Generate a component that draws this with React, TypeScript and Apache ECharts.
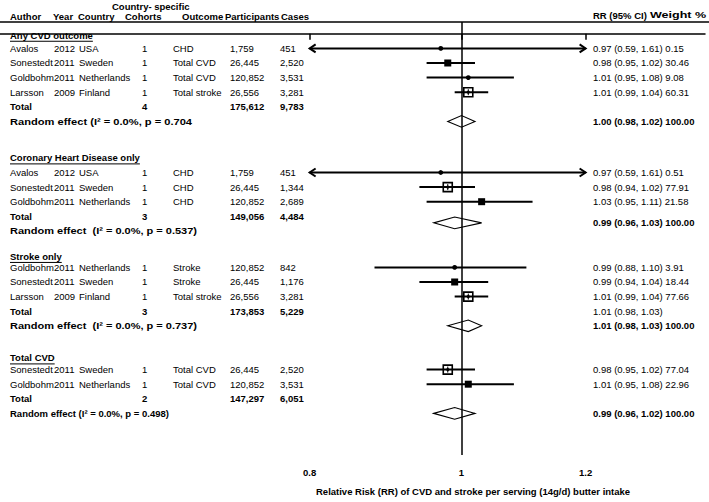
import React, { useEffect, useRef } from "react";
import * as echarts from "echarts";

// ---------------- data ----------------
const sectionTitles = ["Any CVD outcome", "Coronary Heart Disease only", "Stroke only", "Total CVD"];
const sectionRows = [0.1, 8.5, 15.25, 22.2];

const studyAuthors = ["Avalos", "Sonestedt", "Goldbohm", "Larsson", "Avalos", "Sonestedt", "Goldbohm", "Goldbohm", "Sonestedt", "Larsson", "Sonestedt", "Goldbohm"];
const studyYears = ["2012", "2011", "2011", "2009", "2012", "2011", "2011", "2011", "2011", "2009", "2011", "2011"];
const studyCountries = ["USA", "Sweden", "Netherlands", "Finland", "USA", "Sweden", "Netherlands", "Netherlands", "Sweden", "Finland", "Sweden", "Netherlands"];
const studyCohorts = ["1", "1", "1", "1", "1", "1", "1", "1", "1", "1", "1", "1"];
const studyOutcomes = ["CHD", "Total CVD", "Total CVD", "Total stroke", "CHD", "CHD", "CHD", "Stroke", "Stroke", "Total stroke", "Total CVD", "Total CVD"];
const studyParticipants = ["1,759", "26,445", "120,852", "26,556", "1,759", "26,445", "120,852", "120,852", "26,445", "26,556", "26,445", "120,852"];
const studyCases = ["451", "2,520", "3,531", "3,281", "451", "1,344", "2,689", "842", "1,176", "3,281", "2,520", "3,531"];
const studyRR = [0.97, 0.98, 1.01, 1.01, 0.97, 0.98, 1.03, 0.99, 0.99, 1.01, 0.98, 1.01];
const studyLo = [0.59, 0.95, 0.95, 0.99, 0.59, 0.94, 0.95, 0.88, 0.94, 0.99, 0.95, 0.95];
const studyHi = [1.61, 1.02, 1.08, 1.04, 1.61, 1.02, 1.11, 1.10, 1.04, 1.04, 1.02, 1.08];
const studyWeight = [0.15, 30.46, 9.08, 60.31, 0.51, 77.91, 21.58, 3.91, 18.44, 77.66, 77.04, 22.96];
const studyRows = [1, 2, 3, 4, 9.5, 10.5, 11.5, 16, 17, 18, 23, 24];

const totalCohorts = ["4", "3", "3", "2"];
const totalParticipants = ["175,612", "149,056", "173,853", "147,297"];
const totalCases = ["9,783", "4,484", "5,229", "6,051"];
const totalEstimates = ["", "", "1.01 (0.98, 1.03)", ""];
const totalRows = [5, 12.5, 19, 25];

const pooledLabels = [
  "Random effect (I\u00B2 = 0.0%, p = 0.704",
  "Random effect  (I\u00B2 = 0.0%, p = 0.537)",
  "Random effect  (I\u00B2 = 0.0%, p = 0.737)",
  "Random effect (I\u00B2 = 0.0%, p = 0.498)",
];
const pooledLabelRows = [6, 13.5, 20, 26];
const pooledRR = [1.0, 0.99, 1.01, 0.99];
const pooledLo = [0.98, 0.96, 0.98, 0.96];
const pooledHi = [1.02, 1.03, 1.03, 1.02];
const pooledWeight = [100, 100, 100, 100];
const pooledRows = [6, 12.95, 20, 26];

const xTicks = [0.8, 1, 1.2];
const axisTitle = "Relative Risk (RR) of CVD and stroke per serving (14g/d) butter intake";

// ---------------- layout ----------------
const FAMILY = "'Liberation Sans', Arial, Helvetica, sans-serif";
const FS = 9.5;
const REG = `${FS}px ${FAMILY}`;
const BOLD = `bold ${FS}px ${FAMILY}`;
const COL = { author: 10, year: 54, country: 79, cohorts: 142, outcome: 173, participants: 230, cases: 280, estimate: 593 };
const LABEL_STRETCH = [1.17, 1.16, 1.16, 1];
const X_MIN = -0.678;
const X_MAX = 0.3577;
const Y_MIN = -0.808;
const Y_MAX = 28.85;
const CLIP_LO = 0.8;
const CLIP_HI = 1.2;

const measure = (text: string, font: string) => {
  const ctx = document.createElement("canvas").getContext("2d");
  if (!ctx) return text.length * 5;
  ctx.font = font;
  return ctx.measureText(text).width;
};

type Cell = { text: string; x: number; font: string; underline?: boolean; stretch?: number };
type TableRow = { row: number; cells: Cell[] };

const fmt = (v: number) => v.toFixed(2);

function buildTable(): TableRow[] {
  const rows: TableRow[] = [];
  sectionTitles.forEach((t, i) => rows.push({ row: sectionRows[i], cells: [{ text: t, x: COL.author, font: BOLD, underline: true }] }));
  studyAuthors.forEach((a, i) => {
    rows.push({
      row: studyRows[i],
      cells: [
        { text: a, x: COL.author, font: REG },
        { text: studyYears[i], x: COL.year, font: REG },
        { text: studyCountries[i], x: COL.country, font: REG },
        { text: studyCohorts[i], x: COL.cohorts, font: REG },
        { text: studyOutcomes[i], x: COL.outcome, font: REG },
        { text: studyParticipants[i], x: COL.participants, font: REG },
        { text: studyCases[i], x: COL.cases, font: REG },
        { text: `${fmt(studyRR[i])} (${fmt(studyLo[i])}, ${fmt(studyHi[i])}) ${fmt(studyWeight[i])}`, x: COL.estimate, font: REG },
      ],
    });
  });
  totalRows.forEach((r, i) => {
    const cells: Cell[] = [
      { text: "Total", x: COL.author, font: BOLD },
      { text: totalCohorts[i], x: COL.cohorts, font: BOLD },
      { text: totalParticipants[i], x: COL.participants, font: BOLD },
      { text: totalCases[i], x: COL.cases, font: BOLD },
    ];
    if (totalEstimates[i]) cells.push({ text: totalEstimates[i], x: COL.estimate, font: REG });
    rows.push({ row: r, cells });
  });
  pooledLabelRows.forEach((r, i) => {
    rows.push({ row: r, cells: [{ text: pooledLabels[i], x: COL.author, font: BOLD, stretch: LABEL_STRETCH[i] }] });
  });
  pooledRows.forEach((r, i) => {
    rows.push({
      row: r,
      cells: [
        { text: `${fmt(pooledRR[i])} (${fmt(pooledLo[i])}, ${fmt(pooledHi[i])}) ${fmt(pooledWeight[i])}`, x: COL.estimate, font: BOLD },
      ],
    });
  });
  return rows;
}

export default function App() {
  const ref = useRef<HTMLDivElement>(null);

  useEffect(() => {
    if (!ref.current) return;
    const chart = echarts.init(ref.current, undefined, { renderer: "svg" });
    const table = buildTable();

    const tableSeries = {
      type: "custom",
      silent: true,
      clip: false,
      data: table.map((t) => [0, t.row]),
      encode: { x: 0, y: 1 },
      renderItem: (params: any, api: any) => {
        const t = table[params.dataIndex];
        const y = api.coord([0, api.value(1)])[1];
        const children: any[] = [];
        t.cells.forEach((c) => {
          children.push({
            type: "text",
            x: c.x,
            y,
            scaleX: c.stretch || 1,
            style: { text: c.text, x: 0, y: 0, font: c.font, fill: "#000", textAlign: "left", textVerticalAlign: "middle" },
          });
          if (c.underline) {
            const w = measure(c.text, c.font);
            children.push({
              type: "line",
              shape: { x1: c.x, y1: y + 6, x2: c.x + w, y2: y + 6 },
              style: { stroke: "#000", lineWidth: 1 },
            });
          }
        });
        return { type: "group", children };
      },
    };

    const forestSeries = {
      type: "custom",
      silent: true,
      clip: false,
      data: studyRR.map((rr, i) => [Math.log(rr), studyRows[i], Math.log(studyLo[i]), Math.log(studyHi[i]), studyWeight[i]]),
      encode: { x: [0, 2, 3], y: 1 },
      renderItem: (params: any, api: any) => {
        const y = api.coord([0, api.value(1)])[1];
        const xc = api.coord([api.value(0), 0])[0];
        const lo = api.value(2);
        const hi = api.value(3);
        const w = api.value(4);
        const clipLeft = lo < Math.log(CLIP_LO);
        const clipRight = hi > Math.log(CLIP_HI);
        const xl = api.coord([clipLeft ? Math.log(CLIP_LO) : lo, 0])[0];
        const xh = api.coord([clipRight ? Math.log(CLIP_HI) : hi, 0])[0];
        const stroke = { stroke: "#000", lineWidth: 2, fill: "none" };
        const children: any[] = [{ type: "line", shape: { x1: xl, y1: y, x2: xh, y2: y }, style: stroke }];
        if (clipLeft) {
          children.push({ type: "polyline", shape: { points: [[xl + 6, y - 4], [xl, y], [xl + 6, y + 4]] }, style: stroke });
        }
        if (clipRight) {
          children.push({ type: "polyline", shape: { points: [[xh - 6, y - 4], [xh, y], [xh - 6, y + 4]] }, style: stroke });
        }
        if (w < 10) {
          children.push({ type: "circle", shape: { cx: xc, cy: y, r: 2.4 }, style: { fill: "#000" } });
        } else if (w < 50) {
          children.push({ type: "rect", shape: { x: xc - 3.5, y: y - 3.5, width: 7, height: 7 }, style: { fill: "#000" } });
        } else {
          children.push({ type: "rect", shape: { x: xc - 4.5, y: y - 4.5, width: 9, height: 9 }, style: { fill: "none", stroke: "#000", lineWidth: 1.6 } });
          children.push({ type: "line", shape: { x1: xc, y1: y - 3, x2: xc, y2: y + 3 }, style: { stroke: "#000", lineWidth: 1 } });
          children.push({ type: "circle", shape: { cx: xc, cy: y, r: 1.6 }, style: { fill: "#000" } });
        }
        return { type: "group", children };
      },
      markLine: {
        silent: true,
        symbol: "none",
        label: { show: false },
        lineStyle: { color: "#000", width: 1.5, type: "solid" },
        data: [{ xAxis: 0 }],
      },
    };

    const diamondSeries = {
      type: "custom",
      silent: true,
      clip: false,
      data: pooledRR.map((rr, i) => [Math.log(rr), pooledRows[i], Math.log(pooledLo[i]), Math.log(pooledHi[i])]),
      encode: { x: [0, 2, 3], y: 1 },
      renderItem: (params: any, api: any) => {
        const y = api.coord([0, api.value(1)])[1];
        const xc = api.coord([api.value(0), 0])[0];
        const xl = api.coord([api.value(2), 0])[0];
        const xh = api.coord([api.value(3), 0])[0];
        const h = 5.8;
        return {
          type: "polygon",
          shape: { points: [[xl, y], [xc, y - h], [xh, y], [xc, y + h]] },
          style: { fill: "#fff", stroke: "#000", lineWidth: 1.1 },
        };
      },
    };

    const tickValues = xTicks.map((t) => Math.log(t));
    const head = (text: string, x: number, y: number, scaleX = 1) => ({
      type: "text",
      x,
      y,
      scaleX,
      silent: true,
      style: { text, x: 0, y: 0, font: BOLD, fill: "#000", textVerticalAlign: "middle" },
    });

    chart.setOption({
      animation: false,
      backgroundColor: "#fff",
      grid: { left: 0, right: 4, top: 22, bottom: 47, containLabel: false },
      xAxis: {
        type: "value",
        min: X_MIN,
        max: X_MAX,
        splitLine: { show: false },
        axisLine: { show: true, lineStyle: { color: "#000", width: 1.5 } },
        axisTick: { show: true, customValues: tickValues, length: 6, lineStyle: { color: "#000", width: 1.5 } },
        axisLabel: {
          show: true,
          customValues: tickValues,
          margin: 12,
          color: "#000",
          fontWeight: "bold",
          fontSize: FS,
          fontFamily: FAMILY,
          formatter: (v: number) => String(Number(Math.exp(v).toFixed(1))),
        },
      },
      yAxis: {
        type: "value",
        inverse: true,
        min: Y_MIN,
        max: Y_MAX,
        show: false,
        splitLine: { show: false },
      },
      graphic: [
        { type: "line", shape: { x1: 0, y1: 22, x2: 709, y2: 22 }, style: { stroke: "#000", lineWidth: 1.5 }, silent: true },
        head("Country- specific", 112, 6),
        head("Author", COL.author, 16.5),
        head("Year", 53, 16.5),
        head("Country", 78, 16.5),
        head("Cohorts", 125, 16.5),
        head("Outcome", 182, 16.5),
        head("Participants", 225, 16.5),
        head("Cases", 281, 16.5),
        head("RR (95% CI)", 593, 15),
        head("Weight %", 650, 15, 1.32),
        head(axisTitle, 316, 491),
      ],
      series: [forestSeries, diamondSeries, tableSeries],
    });

    return () => chart.dispose();
  }, []);

  return <div ref={ref} style={{ position: "absolute", left: 0, top: 0, width: 709, height: 502 }} />;
}
